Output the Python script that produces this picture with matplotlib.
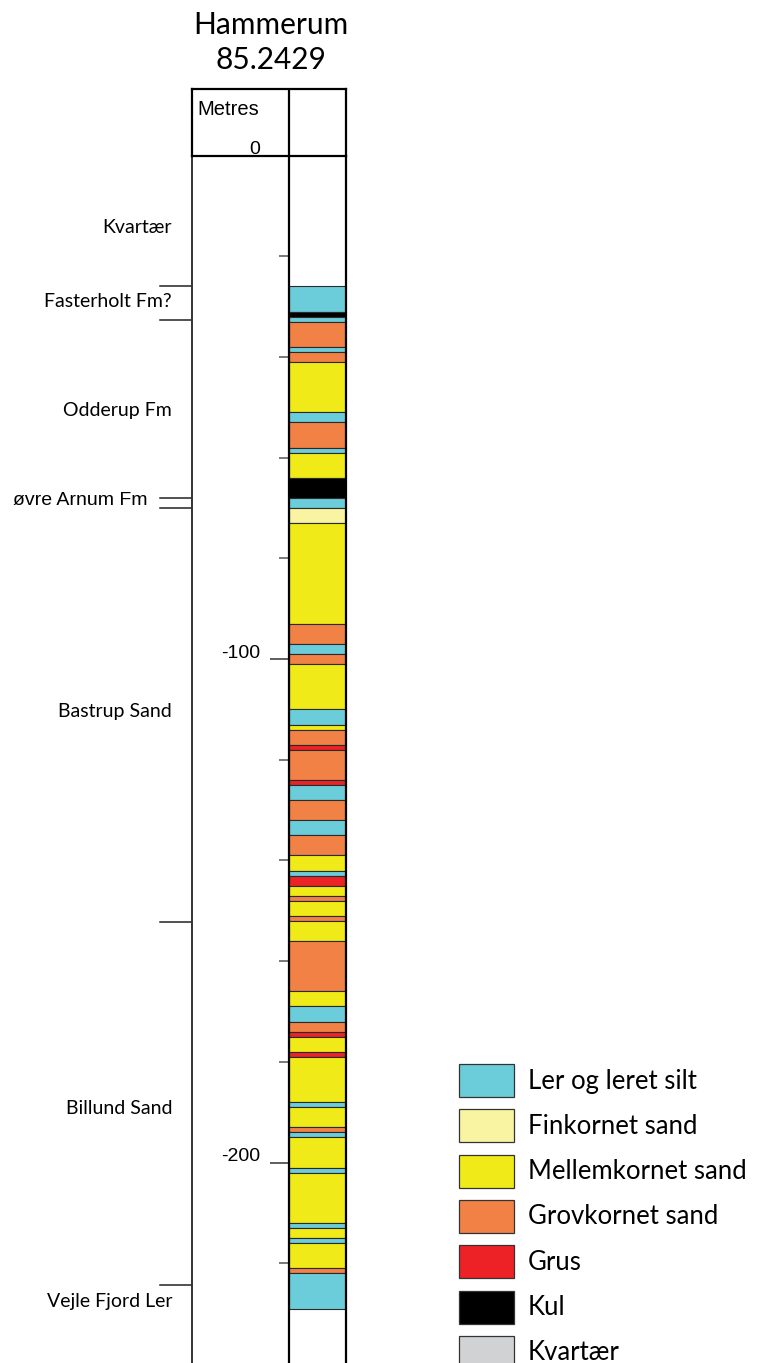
import matplotlib
matplotlib.use("Agg")
import matplotlib.pyplot as plt
from matplotlib.patches import Rectangle

W, H = 758, 1363

# borehole and its lithology log (depth in metres below surface)
well_name = "Hammerum"
well_id = "85.2429"
boundaries = [26, 31, 32, 33, 38, 39, 41, 51, 53, 58, 59, 64, 68, 70, 73, 93,
              97, 99, 101, 110, 113, 114, 117, 118, 124, 125, 128, 132, 135,
              139, 142, 143, 145, 147, 148, 151, 152, 156, 166, 169, 172, 174,
              175, 178, 179, 188, 189, 193, 194, 195, 201, 202, 212, 213, 215,
              216, 221, 222, 229]
lith = ["ler", "kul", "ler", "grov", "ler", "grov", "mellem", "ler", "grov",
        "ler", "mellem", "kul", "ler", "fin", "mellem", "grov", "ler", "grov",
        "mellem", "ler", "mellem", "grov", "grus", "grov", "grus", "ler",
        "grov", "ler", "grov", "mellem", "ler", "grus", "mellem", "grov",
        "mellem", "grov", "mellem", "grov", "mellem", "ler", "grov", "grus",
        "mellem", "grus", "mellem", "ler", "mellem", "grov", "ler", "mellem",
        "ler", "mellem", "ler", "mellem", "ler", "mellem", "grov", "ler"]

# formations
form_names = ["Kvartær", "Fasterholt Fm?", "Odderup Fm", "øvre Arnum Fm",
              "Bastrup Sand", "Billund Sand", "Vejle Fjord Ler"]
form_label_depth = [14.2, 29, 50.6, 68.6, 110.5, 189.2, 227.5]
form_tops = [26, 32.7, 68, 70, 152.3, 224.4]

# legend
legend_keys = ["ler", "fin", "mellem", "grov", "grus", "kul", "kvartaer"]
legend_labels = ["Ler og leret silt", "Finkornet sand", "Mellemkornet sand",
                 "Grovkornet sand", "Grus", "Kul", "Kvartær"]
colors = {"ler": "#6ccdda", "fin": "#f8f4a2", "mellem": "#f0ea18",
          "grov": "#f28146", "grus": "#ec2227", "kul": "#000000",
          "kvartaer": "#d1d2d4"}

depth_max = 239.8
major_ticks = [0, -100, -200]
minor_ticks = [-20, -40, -60, -80, -120, -140, -160, -180, -220]

gill = ["Lato", "DejaVu Sans"]
helv = ["Liberation Sans", "DejaVu Sans"]


def box(x0, y0, x1, y1):
    return [x0 / W, 1 - y1 / H, (x1 - x0) / W, (y1 - y0) / H]


fig = plt.figure(figsize=(W / 100, H / 100), dpi=100)
ax_d = fig.add_axes(box(192, 155.5, 288.5, H))
ax_c = fig.add_axes(box(288.5, 155.5, 346, H))
ax_h = fig.add_axes(box(192, 89, 346, 155.5))
for a in (ax_d, ax_c, ax_h):
    a.patch.set_alpha(0)

# lithology column
tops = boundaries[:-1]
bases = boundaries[1:]
ax_c.bar([0.5] * len(lith), [b - t for t, b in zip(tops, bases)],
         bottom=[-b for b in bases], width=1.0,
         color=[colors[k] for k in lith], edgecolor="#2a2a2a", linewidth=0.8)
ax_c.set_xlim(0, 1)
ax_c.set_ylim(-depth_max, 0)
ax_c.set_xticks([])
ax_c.set_yticks([])
for s in ["top", "bottom"]:
    ax_c.spines[s].set_visible(False)
for s in ["left", "right"]:
    ax_c.spines[s].set_linewidth(1.6)
    ax_c.spines[s].set_color("black")

# depth scale
ax_d.set_xlim(0, 1)
ax_d.set_ylim(-depth_max, 0)
ax_d.set_xticks([])
ax_d.yaxis.tick_right()
ax_d.set_yticks([t for t in major_ticks if t != 0])
ax_d.set_yticks(minor_ticks, minor=True)
ax_d.tick_params(axis="y", which="major", direction="in", length=13.7,
                 width=1.1, color="#333333", labelright=False)
ax_d.tick_params(axis="y", which="minor", direction="in", length=7.2,
                 width=1.1, color="#555555", labelright=False)
for s in ["top", "bottom"]:
    ax_d.spines[s].set_visible(False)
ax_d.spines["left"].set_linewidth(1.4)
ax_d.spines["left"].set_color("#333333")
ax_d.spines["right"].set_visible(False)
for t in major_ticks:
    ax_d.annotate(str(t), xy=(1, t), xycoords=("axes fraction", "data"),
                  xytext=(-20.5, 4.3), textcoords="offset points",
                  ha="right", va="center", fontsize=14, family=helv,
                  annotation_clip=False)

# formation boundaries and names
trans = ax_d.get_yaxis_transform()
for d in form_tops:
    ax_d.plot([-0.332, 0], [-d, -d], transform=trans, clip_on=False,
              color="#222222", lw=1.1)
for name, d in zip(form_names, form_label_depth):
    near = [abs(d - t) for t in form_tops]
    x = -0.46 if sum(n < 3 for n in near) >= 2 else -0.207
    ax_d.text(x, -d, name, transform=trans, ha="right", va="center",
              fontsize=14, family=gill if x > -0.3 else helv)

# header box
ax_h.set_xlim(0, 1)
ax_h.set_ylim(0, 1)
ax_h.set_xticks([])
ax_h.set_yticks([])
for s in ax_h.spines.values():
    s.set_linewidth(1.6)
ax_h.axvline((288.5 - 192) / 154, color="black", lw=1.6)
ax_h.text(0.032, 0.69, "Metres", ha="left", va="center", fontsize=14.5,
          family=helv)

fig.text(271 / W, 1 - 25 / H, well_name, ha="center", va="center",
         fontsize=21.5, family=gill)
fig.text(271 / W, 1 - 60 / H, well_id, ha="center", va="center",
         fontsize=21.5, family=gill)

# legend
for i, (k, lab) in enumerate(zip(legend_keys, legend_labels)):
    top = 1064 + i * 45.3
    fig.add_artist(Rectangle((459 / W, 1 - (top + 33) / H), 55 / W, 33 / H,
                             transform=fig.transFigure, facecolor=colors[k],
                             edgecolor="#333333", linewidth=0.9))
    fig.text(528 / W, 1 - (top + 17) / H, lab, ha="left", va="center",
             fontsize=18.5, family=gill)

fig.savefig("out.png", dpi=100)
